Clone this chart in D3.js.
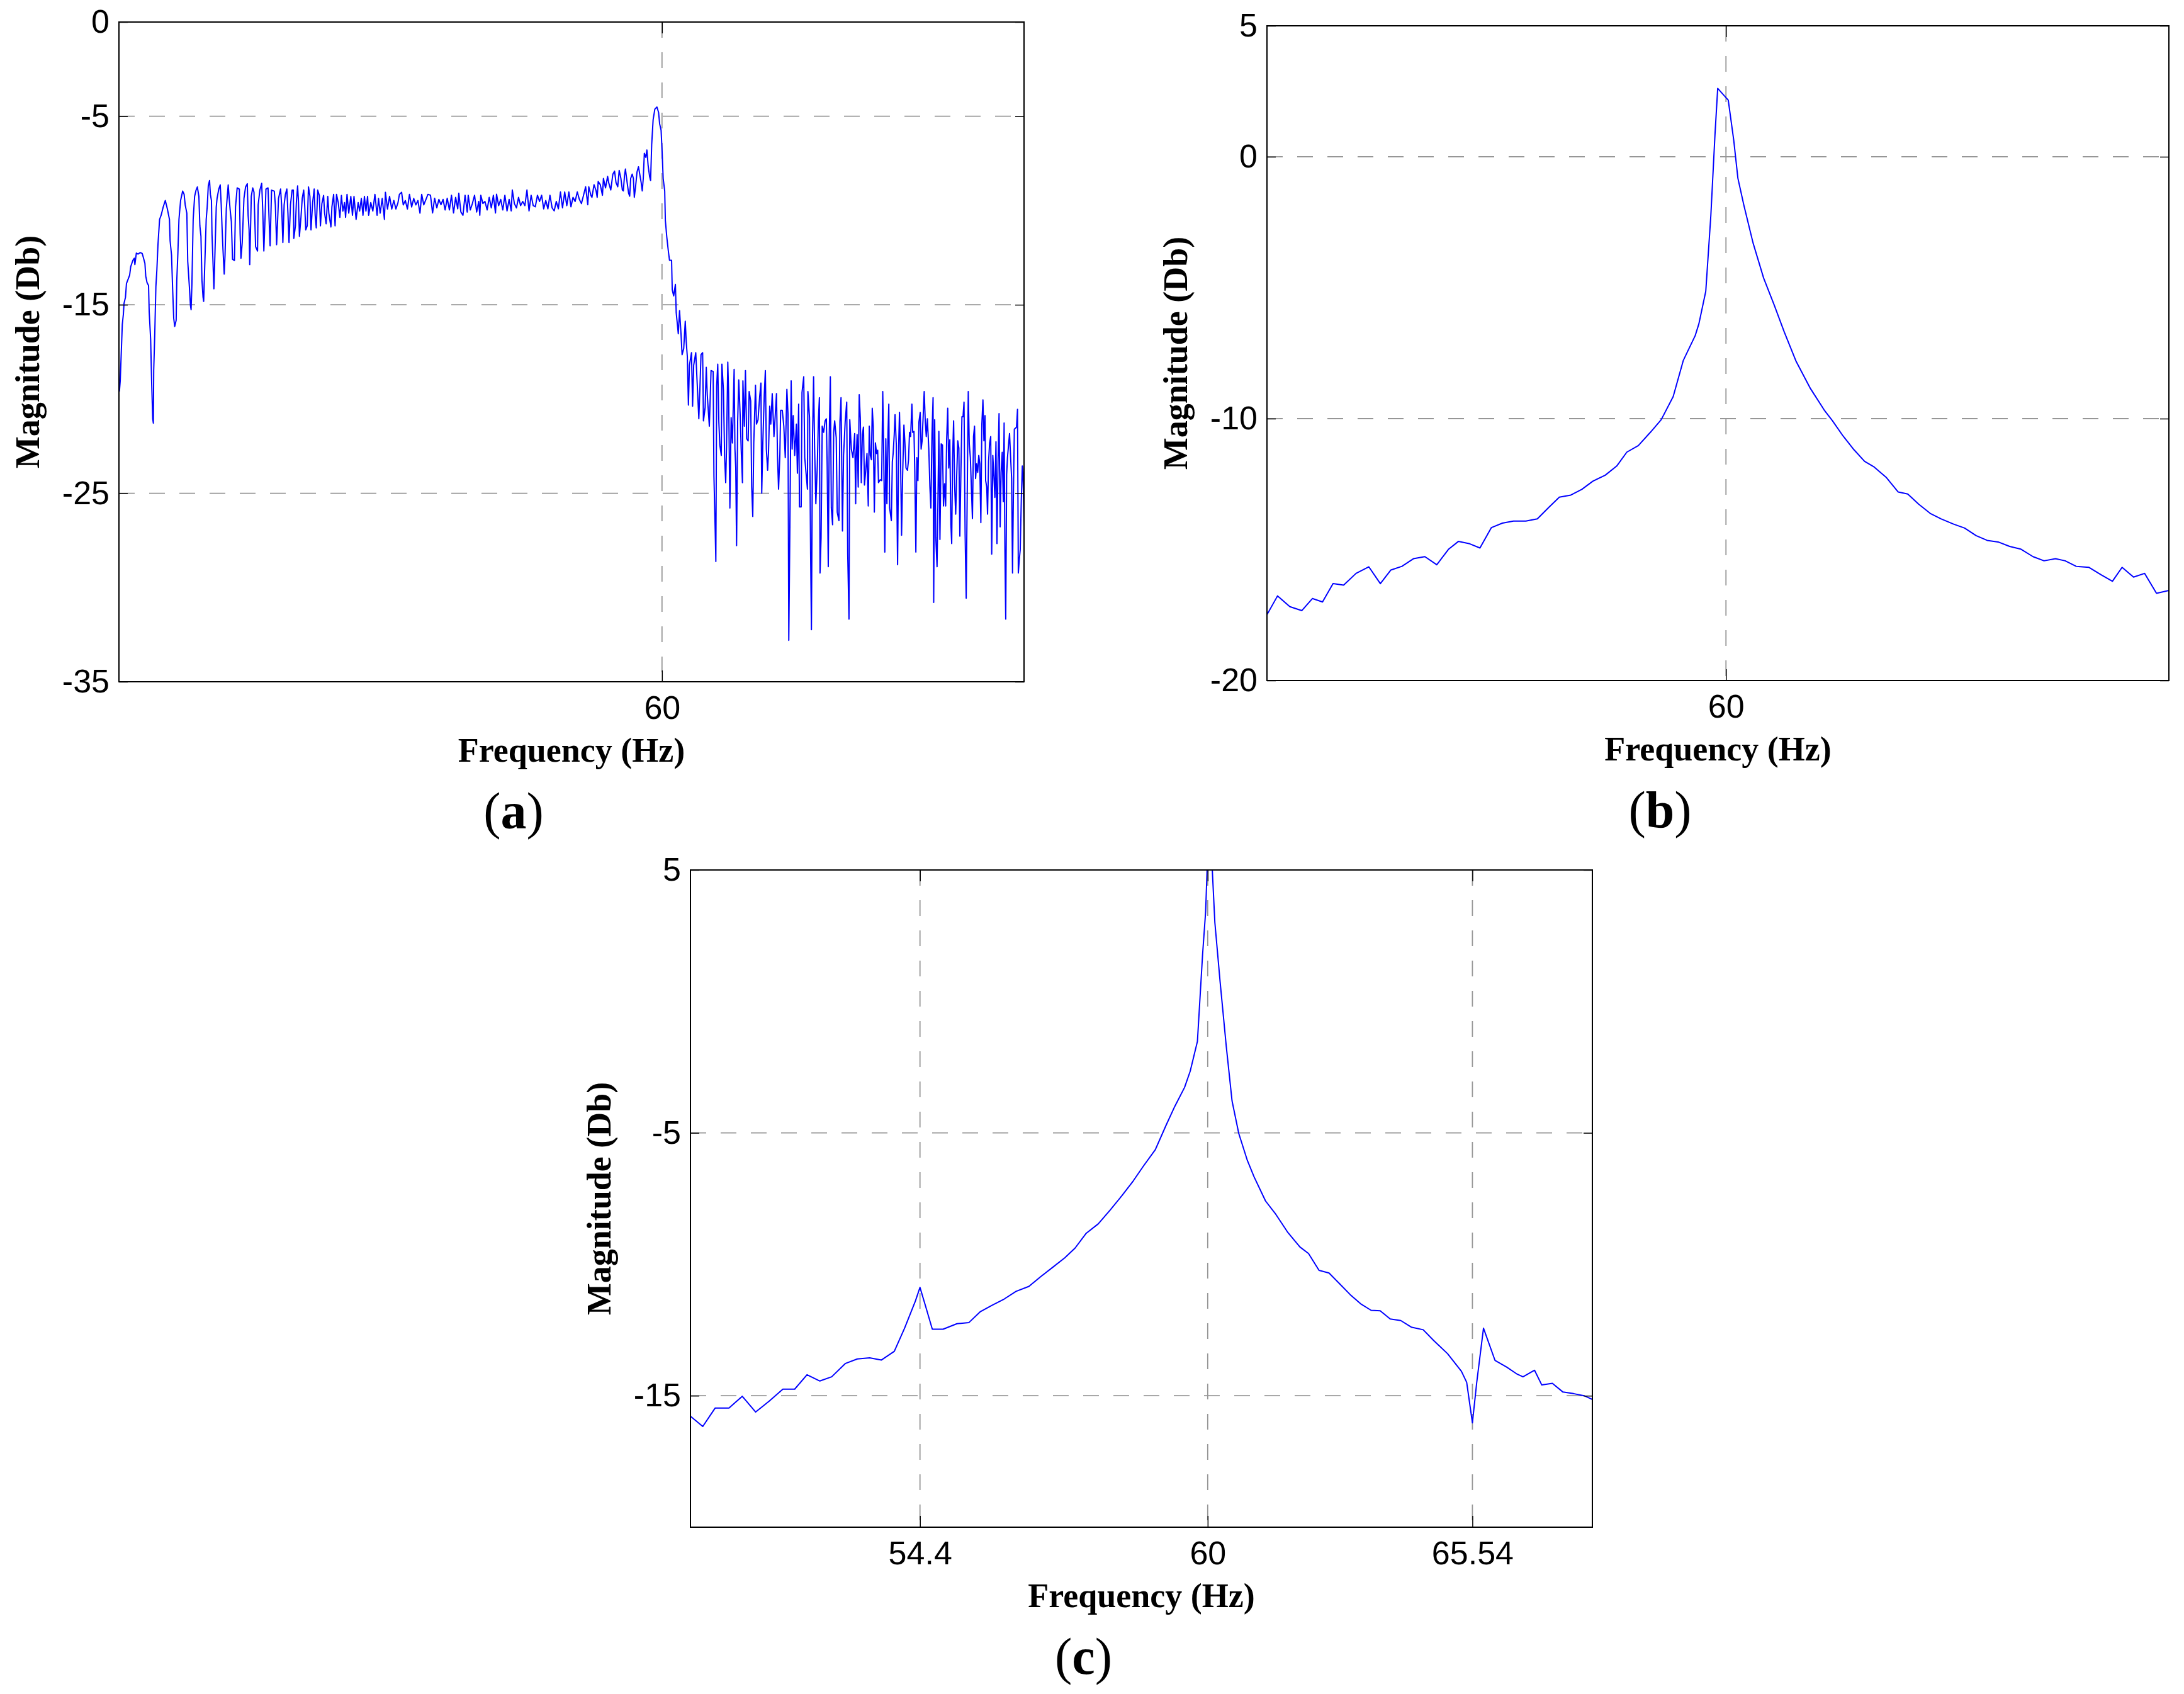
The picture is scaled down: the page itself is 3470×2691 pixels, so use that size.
<!DOCTYPE html>
<html>
<head>
<meta charset="utf-8">
<title>Magnitude spectra around 60 Hz</title>
<style>
  body { margin: 0; background: #fff; }
  svg { display: block; background: #fff; }
  .tick text { font-family: "Liberation Sans", Arial, sans-serif; font-size: 52px; fill: #000; }
  .tick line { stroke: #000; stroke-width: 1.5; }
  .grid line { stroke: #969696; stroke-width: 1.8; stroke-dasharray: 25 23; }
  .frame { fill: none; stroke: #000; stroke-width: 2; }
  .trace { fill: none; stroke: #0000ff; stroke-width: 2; stroke-linejoin: round; }
  .axis-title { font-family: "Liberation Serif", "Times New Roman", serif; font-weight: bold; font-size: 54px; fill: #000; }
  .panel-tag { font-family: "Liberation Serif", "Times New Roman", serif; font-size: 82px; fill: #000; }
</style>
</head>
<body>
<svg id="fig" width="3470" height="2691"></svg>
<script src="https://cdn.jsdelivr.net/npm/d3@7"></script>
<script>
// ---- panel (a): full spectrum, [frequency Hz, magnitude dB] ----
var spectrumALow = [[0.05,-19.6],[0.14,-19.05],[0.37,-16.04],[0.49,-15.49],[0.56,-14.93],[0.72,-14.6],[0.83,-13.87],[1.18,-13.43],[1.3,-12.98],[1.53,-12.65],[1.69,-12.53],[1.76,-12.87],[1.92,-12.26],[2.11,-12.31],[2.34,-12.23],[2.57,-12.28],[2.69,-12.48],[2.87,-12.81],[2.96,-13.48],[3.1,-13.82],[3.27,-13.98],[3.34,-15.37],[3.5,-16.82],[3.61,-19.05],[3.73,-21.05],[3.8,-21.28],[3.84,-18.49],[3.96,-16.49],[4.08,-14.04],[4.19,-13.15],[4.31,-11.81],[4.49,-10.47],[4.66,-10.25],[4.89,-9.81],[5.12,-9.47],[5.35,-9.92],[5.58,-10.47],[5.65,-11.59],[5.81,-12.37],[5.93,-14.15],[6.05,-15.71],[6.16,-16.15],[6.32,-15.82],[6.39,-13.7],[6.51,-12.26],[6.63,-10.47],[6.81,-9.47],[7.04,-8.97],[7.2,-9.14],[7.32,-9.7],[7.5,-10.14],[7.6,-12.7],[7.78,-14.04],[7.9,-15.04],[7.97,-15.26],[8.06,-13.93],[8.2,-10.47],[8.36,-9.25],[8.52,-8.92],[8.66,-8.75],[8.83,-9.25],[8.94,-10.81],[9.06,-11.37],[9.17,-13.7],[9.29,-14.6],[9.36,-14.82],[9.45,-13.37],[9.64,-10.47],[9.75,-9.81],[9.87,-8.69],[10.01,-8.41],[10.1,-9.14],[10.22,-9.47],[10.28,-11.25],[10.38,-12.59],[10.49,-14.15],[10.56,-13.04],[10.75,-9.81],[10.84,-9.36],[11.03,-8.86],[11.19,-8.64],[11.3,-9.7],[11.4,-11.03],[11.49,-12.03],[11.63,-13.37],[11.72,-12.37],[11.86,-9.92],[12.07,-8.64],[12.18,-9.36],[12.3,-10.03],[12.42,-10.59],[12.55,-12.59],[12.76,-12.65],[12.88,-9.81],[13.06,-8.8],[13.3,-8.86],[13.39,-11.25],[13.48,-12.53],[13.62,-11.7],[13.81,-9.36],[13.99,-8.75],[14.18,-8.58],[14.27,-10.25],[14.38,-11.03],[14.45,-12.87],[14.62,-9.25],[14.78,-8.8],[14.92,-9.03],[15.1,-11.92],[15.31,-12.15],[15.38,-9.7],[15.57,-8.92],[15.77,-8.56],[15.89,-10.03],[16.01,-12.15],[16.12,-10.7],[16.24,-8.86],[16.47,-8.8],[16.58,-10.36],[16.7,-11.87],[16.86,-8.92],[17.16,-8.97],[17.28,-9.7],[17.42,-11.81],[17.63,-9.36],[17.86,-8.86],[17.97,-9.7],[18.11,-11.7],[18.25,-9.7],[18.39,-9.14],[18.55,-8.86],[18.67,-10.14],[18.79,-11.7],[18.95,-9.7],[19.13,-8.92],[19.27,-8.92],[19.32,-11.48],[19.5,-10.81],[19.6,-9.58],[19.74,-8.69],[19.83,-9.47],[19.94,-11.37],[20.11,-10.36],[20.25,-9.36],[20.41,-8.92],[20.52,-9.7],[20.64,-11.03],[20.8,-10.81],[20.94,-8.75],[21.1,-9.25],[21.22,-11.03],[21.4,-9.58],[21.57,-8.86],[21.68,-10.25],[21.8,-10.92],[21.96,-8.92],[22.14,-9.2],[22.26,-10.81],[22.42,-9.64],[22.61,-9.2],[22.72,-10.14],[22.89,-10.7],[23.07,-9.25],[23.19,-10.14],[23.42,-10.87],[23.53,-9.81],[23.72,-9.14],[23.88,-10.81],[24.04,-9.14],[24.23,-9.58],[24.41,-10.36],[24.58,-9.2],[24.74,-10.03],[24.92,-9.58],[25.04,-10.36],[25.2,-9.14],[25.39,-10.14],[25.62,-9.25],[25.8,-10.25],[25.97,-9.25],[26.2,-10.47],[26.43,-9.58],[26.59,-10.03],[26.78,-9.36],[26.96,-10.25],[27.12,-9.25],[27.29,-10.03],[27.47,-9.25],[27.59,-10.25],[27.82,-9.58],[28.05,-10.03],[28.28,-9.14],[28.52,-10.25],[28.68,-9.36],[28.86,-10.14],[29.09,-9.36],[29.33,-10.47],[29.44,-9.03],[29.67,-9.92],[29.9,-9.25],[30.14,-9.92],[30.37,-9.47],[30.6,-9.92],[30.83,-9.58],[30.99,-9.14],[31.23,-9.03],[31.41,-9.7],[31.64,-9.47],[31.87,-9.92],[32.1,-9.14],[32.34,-9.81],[32.57,-9.36],[32.8,-9.7],[33.03,-9.47],[33.26,-10.14],[33.45,-9.14],[33.68,-9.7],[33.96,-9.36],[34.14,-9.14]];

var spectrumAMid = [[34.42,-9.19],[34.65,-10.13],[34.88,-9.35],[35.12,-9.86],[35.35,-9.41],[35.58,-9.69],[35.81,-9.41],[36.04,-9.97],[36.27,-9.35],[36.51,-9.97],[36.74,-9.19],[36.97,-10.13],[37.2,-9.3],[37.43,-9.91],[37.55,-9.08],[37.78,-10.08],[38.01,-10.25],[38.24,-9.19],[38.48,-10.08],[38.59,-9.19],[38.82,-9.97],[39.05,-9.63],[39.29,-9.19],[39.52,-10.08],[39.75,-9.52],[39.87,-10.25],[39.98,-9.19],[40.21,-9.63],[40.44,-9.52],[40.68,-9.97],[40.91,-9.3],[41.14,-9.86],[41.37,-9.19],[41.6,-10.13],[41.72,-9.13],[41.95,-9.74],[42.18,-9.41],[42.41,-9.97],[42.64,-9.19],[42.88,-10.02],[43.11,-9.41],[43.34,-10.02],[43.46,-8.91],[43.69,-9.63],[43.92,-9.86],[44.15,-9.3],[44.38,-9.74],[44.61,-9.52],[44.85,-9.74],[45.08,-8.91],[45.31,-10.02],[45.54,-9.19],[45.77,-9.74],[46.0,-9.8],[46.24,-9.19],[46.47,-9.52],[46.7,-9.19],[46.93,-9.91],[47.16,-9.47],[47.39,-9.91],[47.62,-9.19],[47.86,-9.86],[48.09,-10.02],[48.32,-9.52],[48.55,-9.91],[48.78,-9.02],[49.01,-9.86],[49.25,-9.02],[49.48,-9.74],[49.71,-9.02],[49.94,-9.8],[50.17,-9.3],[50.4,-9.52],[50.64,-9.02],[50.87,-9.41],[51.1,-9.63],[51.33,-9.19],[51.56,-8.74],[51.8,-9.69],[51.91,-8.74],[52.14,-9.19],[52.26,-9.3],[52.49,-8.63],[52.72,-8.96],[52.84,-9.3],[52.95,-8.46],[53.18,-8.63],[53.42,-9.19],[53.53,-8.3],[53.76,-8.8],[53.99,-8.19],[54.11,-8.52],[54.34,-8.91],[54.57,-8.07],[54.76,-7.91],[54.92,-8.52],[55.11,-8.74],[55.27,-7.87],[55.46,-8.3],[55.62,-8.91],[55.73,-8.96],[55.85,-8.19],[55.96,-7.8],[56.15,-8.52],[56.31,-9.08],[56.43,-9.24],[56.54,-8.3],[56.71,-8.07],[56.84,-8.3],[56.94,-9.3],[57.08,-8.74],[57.24,-7.96],[57.4,-7.68],[57.54,-8.07],[57.7,-8.52],[57.82,-8.96],[57.93,-8.3],[58.05,-6.96],[58.21,-7.18],[58.33,-6.79],[58.47,-7.63],[58.63,-8.19],[58.74,-8.41],[58.86,-6.51],[59.02,-5.18],[59.21,-4.62],[59.44,-4.51],[59.62,-4.79],[59.74,-5.4],[59.9,-5.74],[60.02,-6.96],[60.13,-8.3],[60.3,-8.96],[60.37,-10.52],[60.53,-11.41],[60.71,-12.19],[60.83,-12.64],[61.06,-12.64],[61.13,-14.2],[61.29,-14.53],[61.48,-13.92],[61.57,-15.42],[61.71,-16.09],[61.8,-16.54],[61.94,-15.31],[62.1,-16.54],[62.22,-17.65],[62.4,-17.32],[62.57,-15.87],[62.68,-16.98],[62.8,-17.76]];

var spectrumAHigh = [[62.92,-20.32],[63.03,-18.21],[63.26,-17.54],[63.38,-20.38],[63.5,-18.21],[63.73,-17.54],[64.07,-21.05],[64.19,-19.43],[64.31,-17.65],[64.49,-17.54],[64.58,-21.16],[64.77,-20.44],[64.89,-18.32],[65.0,-19.77],[65.23,-21.44],[65.42,-18.49],[65.65,-18.54],[65.74,-24.11],[65.88,-27.0],[65.95,-28.62],[66.04,-19.32],[66.16,-18.15],[66.28,-21.21],[66.39,-22.44],[66.55,-22.99],[66.62,-18.15],[66.79,-19.54],[66.92,-23.11],[67.04,-24.44],[67.13,-22.55],[67.27,-18.04],[67.36,-19.66],[67.5,-25.78],[67.64,-20.99],[67.78,-22.33],[67.97,-18.43],[68.06,-22.66],[68.15,-23.66],[68.24,-27.78],[68.36,-21.21],[68.48,-18.99],[68.64,-20.88],[68.75,-22.66],[68.89,-24.44],[68.94,-19.04],[69.1,-21.44],[69.22,-18.49],[69.36,-22.11],[69.52,-22.22],[69.63,-19.6],[69.8,-20.1],[69.91,-24.67],[70.03,-26.23],[70.14,-22.33],[70.33,-19.27],[70.44,-21.33],[70.61,-21.1],[70.79,-19.88],[70.93,-19.15],[71.02,-25.0],[71.14,-22.33],[71.3,-19.77],[71.42,-18.49],[71.53,-22.66],[71.67,-23.78],[71.77,-22.77],[71.9,-20.38],[72.02,-21.33],[72.18,-19.71],[72.37,-21.99],[72.51,-20.88],[72.65,-19.71],[72.76,-22.99],[72.88,-24.78],[73.02,-22.99],[73.11,-20.6],[73.29,-20.6],[73.46,-21.44],[73.62,-23.11],[73.8,-19.49],[73.92,-20.77],[74.01,-32.8],[74.13,-26.78],[74.27,-19.04],[74.38,-22.66],[74.5,-20.88],[74.66,-22.99],[74.85,-21.33],[74.96,-23.94],[75.1,-20.27],[75.19,-25.72],[75.38,-25.72],[75.47,-19.66],[75.66,-18.82],[75.77,-23.11],[75.93,-24.0],[76.07,-24.78],[76.12,-19.6],[76.3,-20.99],[76.42,-28.23],[76.51,-32.24],[76.63,-22.11],[76.75,-18.82],[76.86,-22.55],[77.0,-25.56],[77.16,-23.55],[77.28,-21.1],[77.39,-19.93],[77.46,-29.23],[77.58,-27.34],[77.7,-21.44],[77.86,-21.77],[78.02,-21.16],[78.16,-21.05],[78.25,-23.55],[78.37,-28.9],[78.48,-21.94],[78.6,-18.82],[78.71,-25.78],[78.85,-26.67],[78.97,-21.77],[79.08,-21.16],[79.25,-22.05],[79.36,-26.0],[79.55,-26.45],[79.66,-21.21],[79.78,-19.93],[79.94,-27.0],[80.06,-22.99],[80.24,-21.21],[80.41,-20.16],[80.52,-28.23],[80.66,-31.68],[80.75,-21.1],[80.92,-22.66],[81.1,-23.11],[81.29,-21.83],[81.4,-25.56],
  [81.44,-23.33],[81.56,-21.88],[81.68,-24.67],[81.79,-19.77],[81.91,-21.0],[82.02,-24.44],[82.14,-21.88],[82.26,-21.49],[82.37,-24.56],[82.51,-23.78],[82.65,-22.89],[82.79,-25.67],[82.9,-21.44],[83.02,-22.99],[83.14,-23.22],[83.23,-20.49],[83.34,-21.44],[83.46,-26.0],[83.58,-22.33],[83.71,-22.89],[83.83,-22.72],[83.92,-24.44],[84.11,-24.28],[84.27,-24.33],[84.39,-19.6],[84.5,-22.99],[84.62,-28.12],[84.73,-22.11],[84.85,-25.56],[84.97,-21.83],[85.06,-20.27],[85.15,-25.78],[85.34,-26.45],[85.45,-23.33],[85.54,-22.89],[85.66,-21.88],[85.75,-20.83],[85.89,-22.44],[86.03,-28.79],[86.15,-22.44],[86.24,-20.71],[86.36,-23.22],[86.47,-27.23],[86.59,-24.0],[86.73,-21.38],[86.84,-22.33],[86.96,-23.66],[87.12,-23.78],[87.24,-23.22],[87.35,-21.77],[87.47,-21.99],[87.61,-20.27],[87.7,-21.77],[87.84,-21.72],[87.93,-23.78],[88.05,-28.12],[88.16,-23.11],[88.28,-24.33],[88.39,-21.21],[88.53,-20.71],[88.63,-22.66],[88.74,-22.22],[88.86,-20.88],[88.97,-19.6],[89.09,-21.21],[89.2,-21.99],[89.32,-21.05],[89.48,-22.66],[89.6,-24.67],[89.71,-25.78],[89.83,-21.88],[89.95,-19.93],[90.02,-30.79],[90.13,-21.1],[90.25,-27.34],[90.39,-28.9],[90.48,-25.67],[90.59,-21.72],[90.71,-27.45],[90.85,-22.38],[90.99,-22.44],[91.1,-25.67],[91.22,-24.5],[91.34,-25.67],[91.45,-22.16],[91.57,-20.49],[91.68,-23.66],[91.8,-22.16],[91.92,-26.67],[92.01,-27.67],[92.1,-23.33],[92.22,-21.16],[92.33,-24.56],[92.45,-26.11],[92.56,-24.11],[92.68,-22.22],[92.8,-22.61],[92.91,-27.28],[93.03,-23.78],[93.14,-20.94],[93.26,-20.94],[93.37,-20.16],[93.49,-27.12],[93.61,-30.57],[93.72,-25.22],[93.84,-19.6],[93.95,-22.38],[94.07,-23.11],[94.19,-24.78],[94.3,-26.34],[94.42,-21.99],[94.53,-21.44],[94.65,-24.22],[94.76,-23.44],[94.88,-23.89],[95.0,-22.99],[95.11,-23.44],[95.23,-26.56],[95.34,-21.33],[95.46,-20.05],[95.57,-22.22],[95.69,-20.88],[95.76,-24.33],[95.88,-24.67],[95.97,-26.11],[96.08,-23.33],[96.2,-22.33],[96.32,-21.99],[96.43,-28.23],[96.55,-22.99],[96.66,-24.0],[96.78,-25.22],[96.9,-22.27],[97.01,-27.67],[97.13,-23.33],[97.24,-20.77],[97.36,-26.78],[97.47,-23.89],[97.59,-22.83],[97.71,-25.45],[97.8,-21.27],[97.89,-28.12],[97.98,-31.68],[98.08,-24.0],[98.17,-23.11],[98.29,-22.44],[98.4,-21.83],[98.52,-23.11],[98.63,-24.22],[98.73,-29.23],[98.82,-25.33],[98.93,-21.6],[99.05,-21.55],[99.17,-21.49],[99.28,-20.55],[99.37,-29.23],[99.47,-28.56],[99.58,-28.0],[99.7,-25.33],[99.81,-23.55],[99.9,-24.2],[100,-26.8]];

var freqDomainA = [0, 100];
var freqTicksA = [60];
var magDomainA = [-35, 0];
var magTicksA = [0, -5, -15, -25, -35];

// ---- panel (b): zoom around 60 Hz ----
var spectrumB = [[50.0,-17.49],[50.23,-16.77],[50.5,-17.18],[50.76,-17.33],[50.99,-16.87],[51.21,-17.0],[51.44,-16.3],[51.67,-16.36],[51.94,-15.91],[52.22,-15.66],[52.47,-16.3],[52.7,-15.78],[52.94,-15.64],[53.19,-15.35],[53.44,-15.27],[53.7,-15.58],[53.96,-14.98],[54.17,-14.69],[54.4,-14.77],[54.64,-14.94],[54.89,-14.16],[55.13,-13.99],[55.37,-13.91],[55.64,-13.91],[55.89,-13.83],[56.15,-13.37],[56.37,-13.0],[56.62,-12.92],[56.86,-12.7],[57.1,-12.39],[57.37,-12.16],[57.62,-11.81],[57.84,-11.28],[58.09,-11.03],[58.35,-10.53],[58.59,-10.04],[58.85,-9.16],[59.07,-7.78],[59.33,-6.83],[59.41,-6.38],[59.56,-5.14],[59.67,-2.26],[59.76,0.82],[59.82,2.61],[60.05,2.16],[60.17,0.62],[60.26,-0.82],[60.39,-1.85],[60.59,-3.29],[60.82,-4.63],[61.05,-5.66],[61.27,-6.69],[61.53,-7.82],[61.84,-8.85],[62.14,-9.67],[62.32,-10.08],[62.55,-10.66],[62.79,-11.19],[63.02,-11.63],[63.23,-11.85],[63.49,-12.24],[63.75,-12.8],[63.96,-12.88],[64.2,-13.27],[64.45,-13.62],[64.69,-13.83],[64.96,-14.03],[65.2,-14.18],[65.45,-14.47],[65.69,-14.65],[65.93,-14.71],[66.18,-14.88],[66.42,-14.98],[66.69,-15.27],[66.93,-15.43],[67.18,-15.35],[67.39,-15.43],[67.63,-15.64],[67.91,-15.68],[68.18,-15.97],[68.42,-16.21],[68.63,-15.68],[68.88,-16.05],[69.12,-15.91],[69.38,-16.67],[69.65,-16.56]];

var freqDomainB = [50, 69.65];
var freqTicksB = [60];
var magDomainB = [-20, 5];
var magTicksB = [5, 0, -10, -20];

// ---- panel (c): with side components at 54.4 Hz and 65.54 Hz ----
var spectrumC = [[49.93,-15.78],[50.17,-16.17],[50.41,-15.47],[50.68,-15.47],[50.94,-15.02],[51.2,-15.62],[51.46,-15.21],[51.73,-14.75],[51.96,-14.75],[52.2,-14.2],[52.45,-14.44],[52.68,-14.28],[52.95,-13.77],[53.18,-13.6],[53.42,-13.56],[53.65,-13.64],[53.9,-13.31],[54.1,-12.43],[54.31,-11.4],[54.4,-10.88],[54.51,-11.6],[54.64,-12.47],[54.85,-12.47],[55.12,-12.26],[55.35,-12.22],[55.57,-11.81],[55.8,-11.56],[56.04,-11.32],[56.27,-11.03],[56.52,-10.84],[56.75,-10.47],[56.98,-10.12],[57.22,-9.75],[57.42,-9.38],[57.63,-8.83],[57.87,-8.46],[58.1,-7.94],[58.33,-7.39],[58.55,-6.83],[58.75,-6.26],[58.98,-5.64],[59.19,-4.71],[59.36,-3.99],[59.55,-3.27],[59.66,-2.65],[59.8,-1.52],[59.9,1.77],[59.96,3.42],[60.01,6.2],[60.08,5.6],[60.15,3.0],[60.26,0.74],[60.39,-1.73],[60.51,-3.79],[60.65,-5.02],[60.83,-6.05],[60.97,-6.67],[61.21,-7.59],[61.43,-8.11],[61.67,-8.77],[61.93,-9.34],[62.11,-9.59],[62.33,-10.23],[62.54,-10.33],[62.76,-10.74],[62.98,-11.15],[63.2,-11.5],[63.42,-11.75],[63.61,-11.77],[63.82,-12.08],[64.04,-12.14],[64.26,-12.39],[64.51,-12.49],[64.73,-12.9],[65.02,-13.4],[65.31,-14.07],[65.42,-14.49],[65.54,-16.03],[65.63,-14.49],[65.77,-12.43],[66.01,-13.66],[66.25,-13.91],[66.47,-14.18],[66.59,-14.28],[66.83,-14.03],[66.98,-14.59],[67.2,-14.53],[67.42,-14.86],[67.64,-14.92],[67.86,-15.0],[68.03,-15.14]];

var freqDomainC = [49.93, 54.4, 60, 65.54, 68.03];
var freqTicksC = [54.4, 60, 65.54];
var magDomainC = [-20, 5];
var magTicksC = [5, -5, -15];

var svg = d3.select('#fig');

var panels = [
  { tag: 'a', left: 189, top: 35, width: 1438, height: 1048,
    data: spectrumALow.concat(spectrumAMid, spectrumAHigh),
    xDomain: freqDomainA, xStops: [0, 1], xTicks: freqTicksA,
    yDomain: magDomainA, yTicks: magTicksA },
  { tag: 'b', left: 2013, top: 41, width: 1433, height: 1040,
    data: spectrumB,
    xDomain: freqDomainB, xStops: [0, 1], xTicks: freqTicksB,
    yDomain: magDomainB, yTicks: magTicksB },
  { tag: 'c', left: 1097, top: 1382, width: 1433, height: 1044,
    data: spectrumC,
    xDomain: freqDomainC, xStops: [0, 0.2545, 0.5735, 0.867, 1], xTicks: freqTicksC,
    yDomain: magDomainC, yTicks: magTicksC }
];

function drawPanel(p) {
  var w = p.width, h = p.height;
  var x = d3.scaleLinear().domain(p.xDomain).range(p.xStops.map(function(s) { return s * w; }));
  var y = d3.scaleLinear().domain(p.yDomain).range([h, 0]);
  var xMin = p.xDomain[0], xMax = p.xDomain[p.xDomain.length - 1];

  var g = svg.append('g').attr('transform', 'translate(' + p.left + ',' + p.top + ')');

  g.append('clipPath').attr('id', 'clip-' + p.tag)
    .append('rect').attr('width', w).attr('height', h);

  // dashed grid at the inner ticks
  var grid = g.append('g').attr('class', 'grid');
  grid.selectAll('line.gy')
    .data(p.yTicks.filter(function(v) { return v > p.yDomain[0] && v < p.yDomain[1]; }))
    .join('line').attr('class', 'gy')
    .attr('x1', 0).attr('x2', w)
    .attr('y1', function(d) { return y(d); }).attr('y2', function(d) { return y(d); });
  grid.selectAll('line.gx')
    .data(p.xTicks.filter(function(v) { return v > xMin && v < xMax; }))
    .join('line').attr('class', 'gx')
    .attr('y1', 0).attr('y2', h)
    .attr('x1', function(d) { return x(d); }).attr('x2', function(d) { return x(d); });

  // spectrum trace
  var line = d3.line()
    .x(function(d) { return x(d[0]); })
    .y(function(d) { return y(d[1]); });
  g.append('path')
    .datum(p.data)
    .attr('class', 'trace')
    .attr('clip-path', 'url(#clip-' + p.tag + ')')
    .attr('d', line);

  // axes, MATLAB style: ticks inside, on all four sides
  var noLabel = function() { return ''; };
  var asText = function(d) { return String(d); };
  function dropDomain(a) { a.select('.domain').remove(); }

  g.append('g').attr('transform', 'translate(0,' + h + ')')
    .call(d3.axisBottom(x).tickValues(p.xTicks).tickFormat(asText).tickSize(-18).tickSizeOuter(0).tickPadding(22))
    .call(dropDomain);
  g.append('g')
    .call(d3.axisTop(x).tickValues(p.xTicks).tickFormat(noLabel).tickSize(-18).tickSizeOuter(0))
    .call(dropDomain);
  g.append('g')
    .call(d3.axisLeft(y).tickValues(p.yTicks).tickFormat(asText).tickSize(-14).tickSizeOuter(0).tickPadding(15))
    .call(dropDomain);
  g.append('g').attr('transform', 'translate(' + w + ',0)')
    .call(d3.axisRight(y).tickValues(p.yTicks).tickFormat(noLabel).tickSize(-14).tickSizeOuter(0))
    .call(dropDomain);

  g.append('rect').attr('class', 'frame').attr('width', w).attr('height', h);

  // axis titles
  g.append('text').attr('class', 'axis-title')
    .attr('text-anchor', 'middle')
    .attr('x', w / 2).attr('y', h + 127)
    .text('Frequency (Hz)');
  g.append('text').attr('class', 'axis-title')
    .attr('text-anchor', 'middle')
    .attr('transform', 'translate(-127,' + (h / 2) + ') rotate(-90)')
    .text('Magnitude (Db)');

  // panel tag, e.g. (a)
  var tag = g.append('text').attr('class', 'panel-tag')
    .attr('text-anchor', 'middle')
    .attr('x', w / 2 - 92).attr('y', h + 233);
  tag.append('tspan').text('(');
  tag.append('tspan').attr('font-weight', 'bold').text(p.tag);
  tag.append('tspan').text(')');
}

panels.forEach(drawPanel);
</script>
</body>
</html>
